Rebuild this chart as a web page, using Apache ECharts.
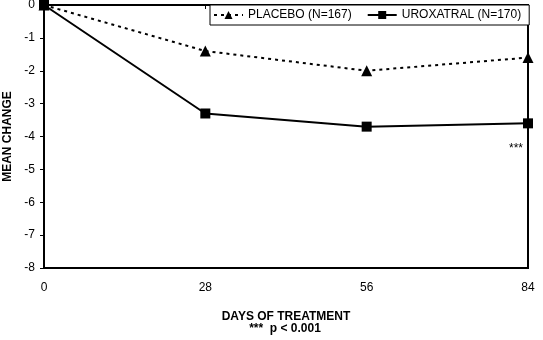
<!DOCTYPE html>
<html>
<head>
<meta charset="utf-8">
<script src="https://cdn.jsdelivr.net/npm/echarts@6/dist/echarts.min.js"></script>
<style>
html,body{margin:0;padding:0;background:#fff;}
#chart{width:543px;height:340px;}
</style>
</head>
<body>
<div id="chart"></div>
<script>
const days = [0, 28, 56, 84];
const placebo = [0, -1.4, -2.0, -1.6];
const uroxatral = [0, -3.3, -3.7, -3.6];
const yTicks = [0, -1, -2, -3, -4, -5, -6, -7, -8];
const seriesNames = ['PLACEBO (N=167)', 'UROXATRAL (N=170)'];
const xTitle = 'DAYS OF TREATMENT';
const yTitle = 'MEAN CHANGE';
const footnote = '***  p < 0.001';
const sigMark = '***';

const FONT = '"Liberation Sans", Arial, sans-serif';
const chart = echarts.init(document.getElementById('chart'), null, {renderer: 'canvas'});

const uroData = uroxatral.map((v, i) => {
  const item = {value: [days[i], v]};
  if (i === uroxatral.length - 1) {
    item.label = {show: true, formatter: sigMark, position: 'bottom', distance: 14, offset: [-12, 0],
      color: '#000', fontSize: 12, fontFamily: FONT};
  }
  return item;
});

chart.setOption({
  animation: false,
  backgroundColor: '#fff',
  grid: {left: 44, right: 15, top: 5, bottom: 72, show: true, borderColor: '#000', borderWidth: 2,
    backgroundColor: 'transparent', containLabel: false, outerBoundsMode: 'none'},
  legend: {
    left: 210, top: 5,
    padding: [4, 8, 4, 3],
    itemGap: 15, itemWidth: 29, itemHeight: 10,
    borderColor: '#000', borderWidth: 1, backgroundColor: '#fff',
    textStyle: {color: '#000', fontSize: 12, fontFamily: FONT},
    data: seriesNames
  },
  xAxis: {
    type: 'value', min: 0, max: 84, interval: 28,
    axisLine: {show: true, lineStyle: {color: '#000', width: 2}},
    axisTick: {show: true, length: 4, lineStyle: {color: '#000'}},
    axisLabel: {color: '#000', fontSize: 12, fontFamily: FONT, margin: 14},
    splitLine: {show: false},
    name: xTitle, nameLocation: 'middle', nameGap: 43,
    nameTextStyle: {color: '#000', fontSize: 12, fontWeight: 'bold', fontFamily: FONT}
  },
  yAxis: {
    type: 'value', min: -8, max: 0, interval: 1,
    axisLine: {show: true, onZero: false, lineStyle: {color: '#000', width: 2}},
    axisTick: {show: true, length: 4, lineStyle: {color: '#000'}},
    axisLabel: {color: '#000', fontSize: 12, fontFamily: FONT, margin: 9,
      formatter: v => yTicks.includes(v) ? String(v) : ''},
    splitLine: {show: false},
    name: yTitle, nameLocation: 'middle', nameGap: 27, nameRotate: 90,
    nameTextStyle: {color: '#000', fontSize: 12, fontWeight: 'bold', fontFamily: FONT}
  },
  graphic: [{
    type: 'text', x: 285, y: 323,
    style: {text: footnote, fill: '#000', font: 'bold 12px ' + FONT, textAlign: 'center'}
  }],
  series: [
    {
      name: seriesNames[0], type: 'line', data: placebo.map((v, i) => [days[i], v]),
      symbol: 'triangle', symbolSize: 11, showAllSymbol: true,
      lineStyle: {color: '#000', width: 2, type: [3, 4]},
      itemStyle: {color: '#000'}, z: 2
    },
    {
      name: seriesNames[1], type: 'line', data: uroData,
      symbol: 'rect', symbolSize: 10, showAllSymbol: true,
      lineStyle: {color: '#000', width: 2, type: 'solid'},
      itemStyle: {color: '#000'}, z: 3
    }
  ]
});
</script>
</body>
</html>
